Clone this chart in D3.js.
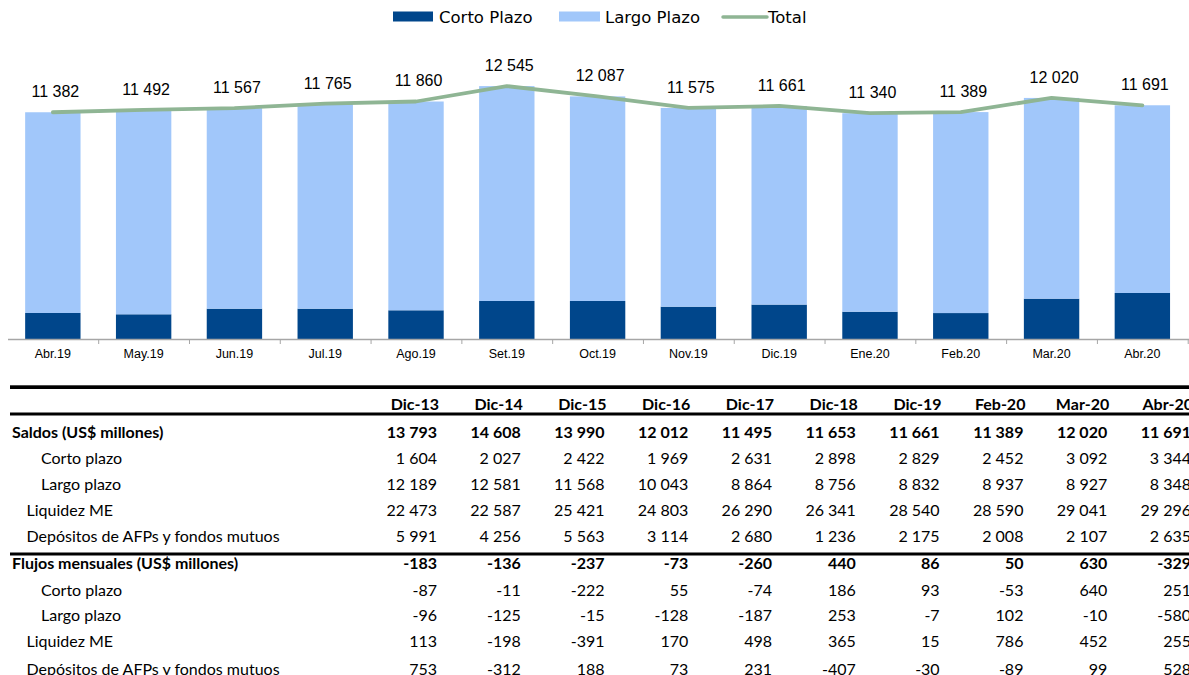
<!DOCTYPE html>
<html>
<head>
<meta charset="utf-8">
<script src="https://cdn.jsdelivr.net/npm/d3@7"></script>
<style>
  html, body { margin: 0; padding: 0; background: #fff; }
  svg { display: block; }
</style>
</head>
<body>
<svg id="chart" width="1189" height="675"></svg>
<script>
// ---------- Chart data ----------
const months = ["Abr.19","May.19","Jun.19","Jul.19","Ago.19","Set.19","Oct.19","Nov.19","Dic.19","Ene.20","Feb.20","Mar.20","Abr.20"];
const cortoPlazo = [2455, 2397, 2646, 2646, 2575, 2988, 2988, 2735, 2829, 2512, 2452, 3092, 3344];
const largoPlazo = [8927, 9095, 8921, 9119, 9285, 9557, 9099, 8840, 8832, 8828, 8937, 8927, 8348];
const totalSeries = [11382, 11492, 11567, 11765, 11860, 12545, 12087, 11575, 11661, 11340, 11389, 12020, 11691];
const legendLabels = ["Corto Plazo", "Largo Plazo", "Total"];

// ---------- Table data ----------
const tableColumns = ["Dic-13","Dic-14","Dic-15","Dic-16","Dic-17","Dic-18","Dic-19","Feb-20","Mar-20","Abr-20"];
const tableRowLabels = [
  "Saldos (US$ millones)", "Corto plazo", "Largo plazo", "Liquidez ME", "Depósitos de AFPs y fondos mutuos",
  "Flujos mensuales (US$ millones)", "Corto plazo", "Largo plazo", "Liquidez ME", "Depósitos de AFPs y fondos mutuos"
];
const rowSaldos      = [13793, 14608, 13990, 12012, 11495, 11653, 11661, 11389, 12020, 11691];
const rowSaldosCorto = [1604, 2027, 2422, 1969, 2631, 2898, 2829, 2452, 3092, 3344];
const rowSaldosLargo = [12189, 12581, 11568, 10043, 8864, 8756, 8832, 8937, 8927, 8348];
const rowSaldosLiq   = [22473, 22587, 25421, 24803, 26290, 26341, 28540, 28590, 29041, 29296];
const rowSaldosAFP   = [5991, 4256, 5563, 3114, 2680, 1236, 2175, 2008, 2107, 2635];
const rowFlujos      = [-183, -136, -237, -73, -260, 440, 86, 50, 630, -329];
const rowFlujosCorto = [-87, -11, -222, 55, -74, 186, 93, -53, 640, 251];
const rowFlujosLargo = [-96, -125, -15, -128, -187, 253, -7, 102, -10, -580];
const rowFlujosLiq   = [113, -198, -391, 170, 498, 365, 15, 786, 452, 255];
const rowFlujosAFP   = [753, -312, 188, 73, 231, -407, -30, -89, 99, 528];

// ---------- Styles ----------
const C_DARK = "#00468b";
const C_LIGHT = "#a1c7fa";
const C_LINE = "#8fb594";

const svg = d3.select("#chart");

// ---------- Scales ----------
const x = d3.scaleBand().domain(months).range([7.9, 1187.3]).paddingInner(0.39).paddingOuter(0.19);
const y = d3.scaleLinear().domain([1285, 14000]).range([339.3, 339.3 - (14000 - 1285) * 0.022487]);

const stackData = months.map((m, i) => ({ month: m, corto: cortoPlazo[i], largo: largoPlazo[i] }));
const stacked = d3.stack().keys(["corto", "largo"])(stackData);
const colors = { corto: C_DARK, largo: C_LIGHT };

const g = svg.append("g");
stacked.forEach(layer => {
  g.append("g").attr("fill", colors[layer.key])
    .selectAll("rect").data(layer).join("rect")
    .attr("x", d => x(d.data.month))
    .attr("width", x.bandwidth())
    .attr("y", d => y(Math.max(d[1], y.domain()[0])))
    .attr("height", d => Math.max(0, y(Math.max(d[0], y.domain()[0])) - y(d[1])));
});

// ---------- X axis ----------
const axisG = svg.append("g").attr("transform", "translate(0,339.5)");
axisG.append("line").attr("x1", 8).attr("x2", 1189).attr("y1", 0).attr("y2", 0)
  .attr("stroke", "#a6a6a6").attr("stroke-width", 1.5);
axisG.selectAll("line.tick").data(months.slice(1).concat(["end"])).join("line").attr("class", "tick")
  .attr("x1", (d, i) => x.range()[0] + (i + 1) * x.step())
  .attr("x2", (d, i) => x.range()[0] + (i + 1) * x.step())
  .attr("y1", 0).attr("y2", 4.5).attr("stroke", "#a6a6a6").attr("stroke-width", 1);
axisG.selectAll("text").data(months).join("text")
  .attr("x", d => x(d) + x.bandwidth() / 2)
  .attr("y", 18)
  .attr("text-anchor", "middle")
  .attr("font-family", "Liberation Sans, Arial, sans-serif")
  .attr("font-size", 12.5)
  .attr("fill", "#000")
  .text(d => d);

// ---------- Total line ----------
const line = d3.line().x((d, i) => x(months[i]) + x.bandwidth() / 2).y(d => y(d));
svg.append("path").datum(totalSeries)
  .attr("d", line).attr("fill", "none")
  .attr("stroke", C_LINE).attr("stroke-width", 3.8)
  .attr("stroke-linecap", "round").attr("stroke-linejoin", "round");

const fmtSp = d3.formatLocale({ decimal: ",", thousands: " ", grouping: [3], currency: ["", ""], minus: "-" }).format(",d");

svg.append("g").selectAll("text").data(totalSeries).join("text")
  .attr("x", (d, i) => x(months[i]) + x.bandwidth() / 2 + 2.5)
  .attr("y", d => y(d) - 15)
  .attr("text-anchor", "middle")
  .attr("font-family", "Liberation Sans, Arial, sans-serif")
  .attr("font-size", 16)
  .attr("fill", "#000")
  .text(d => fmtSp(d));

// ---------- Legend ----------
const leg = svg.append("g").attr("font-family", "DejaVu Sans, sans-serif").attr("font-size", 16.5).attr("fill", "#000");
leg.append("rect").attr("x", 393).attr("y", 11.5).attr("width", 40).attr("height", 10).attr("fill", C_DARK);
leg.append("text").attr("x", 439).attr("y", 23).text(legendLabels[0]);
leg.append("rect").attr("x", 559).attr("y", 11.5).attr("width", 41).attr("height", 10).attr("fill", C_LIGHT);
leg.append("text").attr("x", 605).attr("y", 23).text(legendLabels[1]);
leg.append("line").attr("x1", 723).attr("x2", 767).attr("y1", 17).attr("y2", 17)
  .attr("stroke", C_LINE).attr("stroke-width", 3.5).attr("stroke-linecap", "round");
leg.append("text").attr("x", 768).attr("y", 23).text(legendLabels[2]);

// ---------- Table ----------
const tableRows = [rowSaldos, rowSaldosCorto, rowSaldosLargo, rowSaldosLiq, rowSaldosAFP,
                   rowFlujos, rowFlujosCorto, rowFlujosLargo, rowFlujosLiq, rowFlujosAFP];
const rowIndent = [12, 41, 41, 26.5, 26.5, 12, 41, 41, 26.5, 26.5];
const rowBold = [true, false, false, false, false, true, false, false, false, false];
const rowY = [432.3, 458.3, 484, 510, 536.7, 563.3, 590, 615.7, 641.7, 669.3];
const colX = d3.scaleLinear().domain([0, 9]).range([437, 1191]);
const fontT = "Lato, Carlito, sans-serif";
const fsT = 16;

const tg = svg.append("g").attr("font-family", fontT).attr("font-size", fsT).attr("fill", "#000");
tg.append("rect").attr("x", 10).attr("y", 385.3).attr("width", 1179).attr("height", 3.7).attr("fill", "#000");
tg.append("rect").attr("x", 10).attr("y", 412.5).attr("width", 1179).attr("height", 3).attr("fill", "#000");
tg.append("rect").attr("x", 10).attr("y", 552.5).attr("width", 1179).attr("height", 3).attr("fill", "#000");

tg.selectAll("text.hdr").data(tableColumns).join("text").attr("class", "hdr")
  .attr("x", (d, i) => colX(i) + 2).attr("y", 404).attr("dy", "0.35em")
  .attr("text-anchor", "end").attr("font-weight", "bold").text(d => d);

tableRows.forEach((vals, r) => {
  const rg = tg.append("g").attr("font-weight", rowBold[r] ? "bold" : "normal");
  rg.append("text").attr("x", rowIndent[r]).attr("y", rowY[r]).attr("dy", "0.35em").text(tableRowLabels[r]);
  rg.selectAll("text.v").data(vals).join("text").attr("class", "v")
    .attr("x", (d, i) => colX(i)).attr("y", rowY[r]).attr("dy", "0.35em")
    .attr("text-anchor", "end").text(d => fmtSp(d));
});
</script>
</body>
</html>
